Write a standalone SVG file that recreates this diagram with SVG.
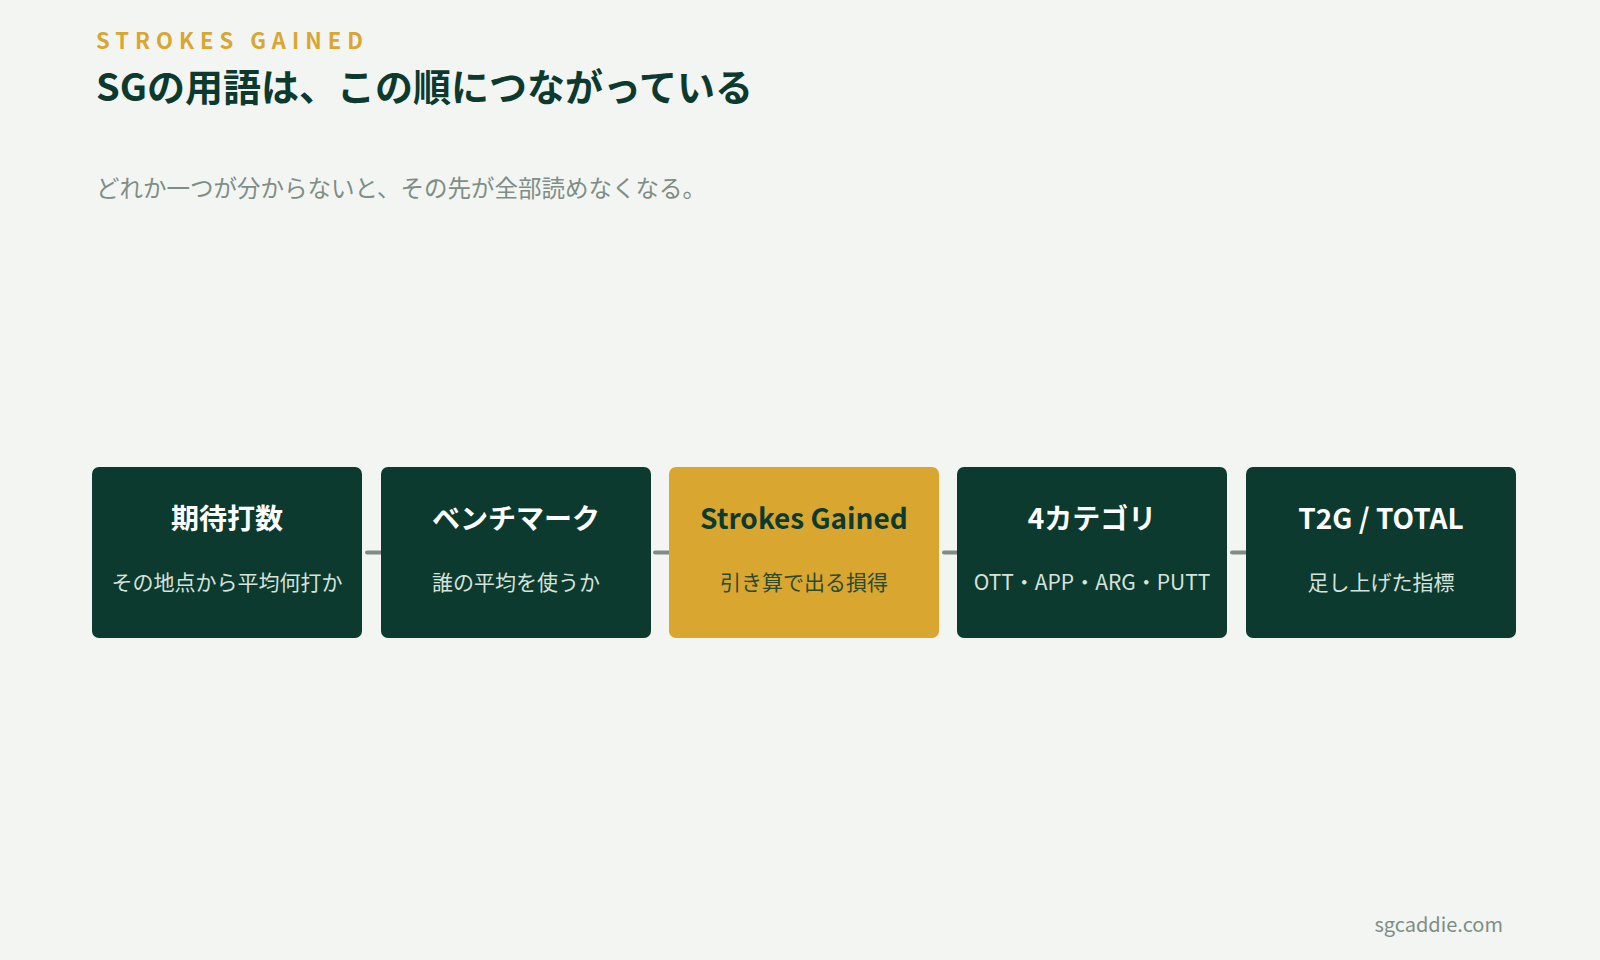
<svg xmlns="http://www.w3.org/2000/svg" width="1600" height="960" viewBox="0 0 1600 960">
<style>
.jp{font-family:"Noto Sans CJK JP","Noto Sans",sans-serif}
.box{fill:#0c3a2e}
.gold{fill:#d9a62f}
.t{font-family:"Noto Sans CJK JP","Noto Sans",sans-serif;font-size:28px;font-weight:700;fill:#ffffff;text-anchor:middle}
.s{font-family:"Noto Sans CJK JP","Noto Sans",sans-serif;font-size:21px;font-weight:400;fill:#d6e2db;text-anchor:middle}
.conn{stroke:#7d8e86;stroke-width:4;stroke-linecap:round;fill:none}
</style>
<rect width="1600" height="960" fill="#f3f5f2"/>
<g id="header">
<text class="jp" x="96" y="49" font-size="22" font-weight="700" letter-spacing="6" fill="#d9a62f">STROKES GAINED</text>
<text class="jp" x="96" y="101" font-size="38" font-weight="700" fill="#0c3a2e">SGの用語は、この順につながっている</text>
<text class="jp" x="96" y="197" font-size="23.5" font-weight="400" fill="#7d8e86">どれか一つが分からないと、その先が全部読めなくなる。</text>
</g>
<g id="connectors">
<line class="conn" x1="367" y1="552.5" x2="384" y2="552.5"/>
<line class="conn" x1="655" y1="552.5" x2="672" y2="552.5"/>
<line class="conn" x1="944" y1="552.5" x2="961" y2="552.5"/>
<line class="conn" x1="1232" y1="552.5" x2="1249" y2="552.5"/>
</g>
<g id="node1">
<rect class="box" x="92" y="467" width="270" height="171" rx="7"/>
<text class="t" x="227" y="529">期待打数</text>
<text class="s" x="227" y="590">その地点から平均何打か</text>
</g>
<g id="node2">
<rect class="box" x="381" y="467" width="270" height="171" rx="7"/>
<text class="t" x="516" y="529">ベンチマーク</text>
<text class="s" x="516" y="590">誰の平均を使うか</text>
</g>
<g id="node3">
<rect class="gold" x="669" y="467" width="270" height="171" rx="7"/>
<text class="t" x="804" y="529" style="fill:#0c3a2e">Strokes Gained</text>
<text class="s" x="804" y="590" style="fill:#2a4a32">引き算で出る損得</text>
</g>
<g id="node4">
<rect class="box" x="957" y="467" width="270" height="171" rx="7"/>
<text class="t" x="1092" y="529">4カテゴリ</text>
<text class="s" x="1092" y="590">OTT・APP・ARG・PUTT</text>
</g>
<g id="node5">
<rect class="box" x="1246" y="467" width="270" height="171" rx="7"/>
<text class="t" x="1381" y="529">T2G / TOTAL</text>
<text class="s" x="1381" y="590">足し上げた指標</text>
</g>
<g id="footer">
<text class="jp" x="1503" y="932" font-size="20" text-anchor="end" fill="#7d8e86">sgcaddie.com</text>
</g>
</svg>
